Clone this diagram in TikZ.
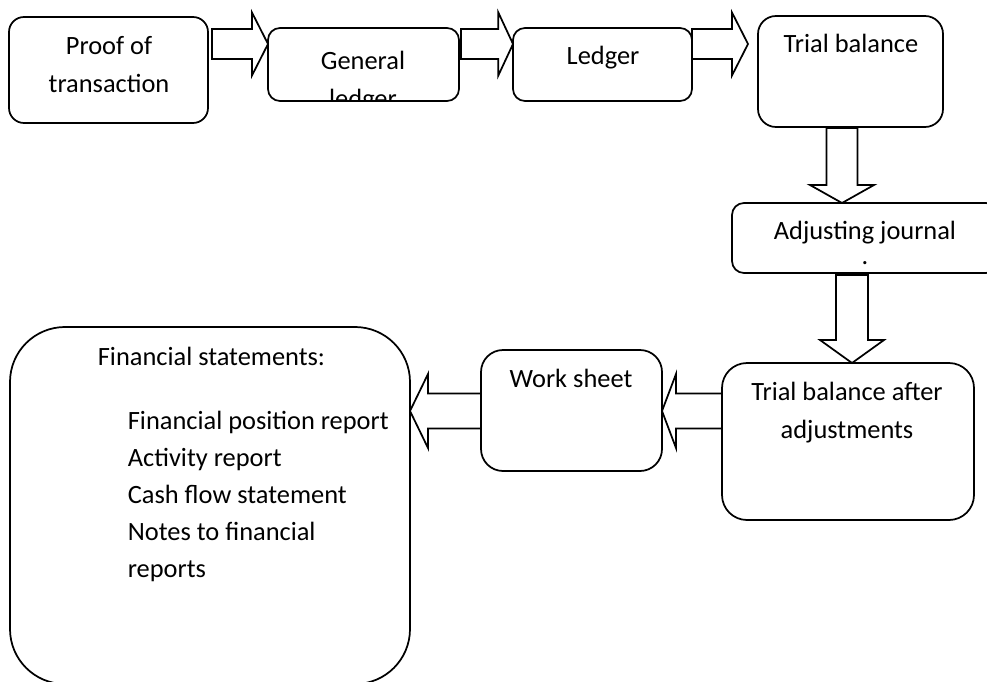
\documentclass[tikz,border=0pt]{standalone}
\usepackage{fontspec}
\setmainfont{Carlito}
\usetikzlibrary{calc,positioning}
\begin{document}
\begin{tikzpicture}[x=0.75pt,y=-0.75pt,line width=1.3pt,font=\fontsize{19.8}{28.5}\selectfont]
    \tikzstyle{bx} = [draw=black,inner sep=0pt,outer sep=0pt] %box
    \tikzstyle{tx} = [inner sep=0pt,align=center] %text
    \tikzset{ba/.style n args={3}{to path={
      ($(\tikztostart)!#1!90:(\tikztotarget)$) --
      ($(\tikztotarget)!#3!(\tikztostart)!#1!90:(\tikztotarget)$) --
      ($(\tikztotarget)!#3!(\tikztostart)!#2!90:(\tikztotarget)$) --
      (\tikztotarget) --
      ($(\tikztotarget)!#3!(\tikztostart)!#2!-90:(\tikztotarget)$) --
      ($(\tikztotarget)!#3!(\tikztostart)!#1!-90:(\tikztotarget)$) --
      ($(\tikztostart)!#1!-90:(\tikztotarget)$) -- cycle}}} %block arrow
    \useasboundingbox (0,0) rectangle (987,681);
    % boxes
    \node[bx,minimum width=149.25pt,minimum height=79.5pt,rounded corners=11.25pt](proof)at(108.5,70){};
    \node[bx,minimum width=143.25pt,minimum height=54.75pt,rounded corners=9pt](gl)at(363.5,64.5){};
    \node[bx,minimum width=134.25pt,minimum height=54.75pt,rounded corners=9pt](ledger)at(602.5,64.5){};
    \node[bx,minimum width=138.75pt,minimum height=83.25pt,rounded corners=13.5pt](tb)at(850.5,71.5){};
    \node[bx,minimum width=199.5pt,minimum height=52.5pt,rounded corners=9pt](adj)at(865,238){};
    \node[bx,minimum width=189pt,minimum height=117.75pt,rounded corners=18.75pt](tba)at(848,441.5){};
    \node[bx,minimum width=135.75pt,minimum height=90.75pt,rounded corners=16.5pt](ws)at(571.5,410.5){};
    \node[bx,minimum width=300pt,minimum height=267.75pt,rounded corners=41.25pt](fs)at(210,505.5){};
    % texts (base of a two-line text is its last line)
    \node[tx,anchor=base](proof-t)at(109,93){Proof of\\[0pt]transaction};
    \begin{scope}
      \clip[rounded corners=9pt](gl.south west)rectangle(gl.north east);
      \node[tx,anchor=base](gl-t)at(363,108){General\\ledger};
    \end{scope}
    \node[tx,anchor=base](ledger-t)at(603,65){Ledger};
    \node[tx,anchor=base](tb-t)at(851,53){Trial balance};
    \node[tx,anchor=base](adj-t)at(865,264){Adjusting journal\\[-9.75pt].};
    \node[tx,anchor=base](tba-t)at(847,438){Trial balance after\\adjustments};
    \node[tx,anchor=base](ws-t)at(571,387){Work sheet};
    \node[tx,anchor=base west](fs-t)at(97,365){Financial statements:};
    \foreach \txt [count=\i] in {Financial position report,Activity report,Cash flow statement,Notes to financial,reports}
      \node[tx,anchor=base west](fs-\i)at(127,392+37*\i){\txt};
    % arrows
    \coordinate(a1)at($(proof.east)+(4,-26)$);
    \coordinate(a2)at($(gl.east |- a1)+(2,0)$);
    \coordinate(a3)at(ledger.east |- a1);
    \coordinate(a4)at($(tb.west |- a1)+(-10,0)$);
    \coordinate(v1)at($(tb.south)+(-8.5,1)$);
    \coordinate(v2)at($(adj.south)+(-13,2)$);
    \coordinate(h1)at($(tba.west)+(0,-30.5)$);
    \draw(a1)to[ba={11.25pt}{23.6pt}{12pt}](gl.west |- a1);
    \draw(a2)to[ba={11.25pt}{23.6pt}{11pt}](ledger.west |- a1);
    \draw(a3)to[ba={11.25pt}{23.6pt}{12pt}](a4);
    \draw(v1)to[ba={11.6pt}{24pt}{13.5pt}](v1 |- adj.north);
    \draw(v2)to[ba={12pt}{24pt}{17.25pt}](v2 |- tba.north);
    \draw(h1)to[ba={13.1pt}{27.75pt}{10.5pt}](ws.east |- h1);
    \draw(ws.west |- h1)to[ba={13.1pt}{27.75pt}{13.5pt}](fs.east |- h1);
  \end{tikzpicture}
\end{document}
